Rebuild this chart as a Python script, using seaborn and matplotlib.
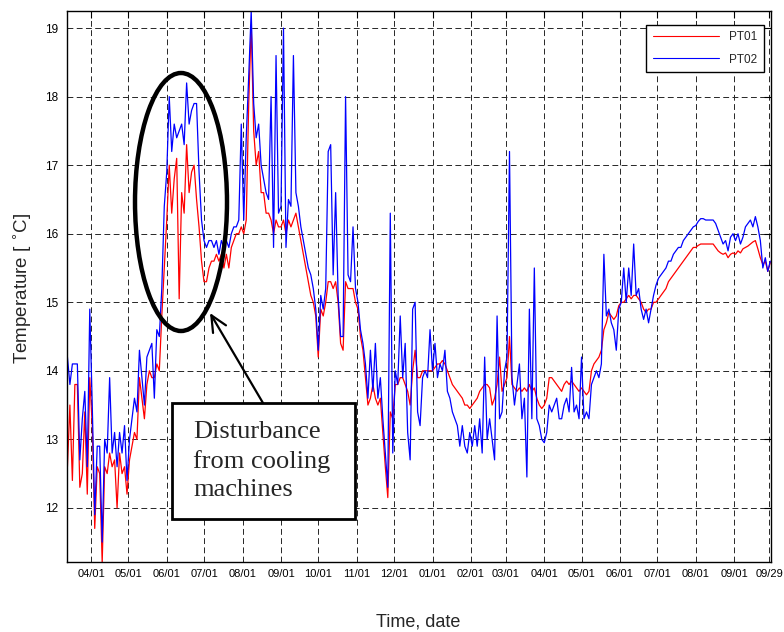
import numpy as np
import pandas as pd
import matplotlib
matplotlib.use("Agg")
import matplotlib.pyplot as plt
import matplotlib.dates as mdates
from matplotlib.lines import Line2D
from matplotlib.patches import Ellipse, Rectangle, FancyArrowPatch
import seaborn as sns

# readings every second day, first one on 2010-03-13
start_date = "2010-03-13"
step = "2D"
sensors = ["PT01", "PT02"]
colors = ["#ff0000", "#0000ff"]

pt01 = [
    12.6, 13.5, 12.4, 13.8, 13.8, 12.3, 12.5, 13.4, 12.2, 13.9,  # mar 10
    13.2, 11.7, 12.6, 12.5, 11.2, 12.6, 12.5, 12.8, 12.6, 12.7, 12.0, 12.8, 12.5, 12.6, 12.2,  # apr
    12.7, 12.9, 13.1, 13.0, 13.9, 13.6, 13.3, 13.8, 14.0, 13.9, 13.9, 14.1, 14.0, 14.8, 15.5,  # may
    16.2, 17.0, 16.3, 16.8, 17.1, 15.05, 16.6, 16.3, 17.3, 16.6, 16.9, 17.0, 16.5, 16.1, 15.6,  # jun
    15.3, 15.3, 15.5, 15.6, 15.6, 15.7, 15.6, 15.7, 15.5, 15.7, 15.5, 15.8, 15.9, 16.0, 16.0, 16.1,  # jul
    16.0, 16.2, 17.9, 19.05, 17.5, 17.0, 17.2, 16.6, 16.6, 16.3, 16.3, 16.2, 16.0, 16.2, 16.1,  # aug
    16.1, 16.2, 16.0, 16.2, 16.1, 16.2, 16.3, 16.1, 15.9, 15.7, 15.5, 15.3, 15.1, 15.0, 14.8,  # sep
    14.2, 14.9, 14.8, 15.0, 15.3, 15.3, 15.2, 15.3, 15.0, 14.4, 14.3, 15.3, 15.2, 15.2, 15.2, 15.0,  # oct
    14.9, 14.5, 14.3, 13.9, 13.5, 13.6, 13.8, 13.6, 13.5, 13.6, 13.1, 12.6, 12.15, 13.4, 13.3,  # nov
    13.8, 13.8, 13.9, 13.9, 13.8, 13.7, 13.5, 14.0, 14.3, 13.9, 13.9, 14.0, 14.0, 14.0, 14.0,  # dec
    14.0, 14.05, 14.1, 14.1, 14.15, 14.1, 14.0, 13.9, 13.8, 13.75, 13.7, 13.65, 13.6, 13.5, 13.5, 13.45,  # jan 11
    13.5, 13.55, 13.6, 13.7, 13.75, 13.8, 13.8, 13.75, 13.5, 13.6, 13.8, 14.2, 13.7, 13.8,  # feb
    13.9, 14.5, 13.8, 13.75, 13.7, 13.75, 13.7, 13.75, 13.7, 13.8, 13.7, 13.75, 13.6, 13.5, 13.45,  # mar
    13.5, 13.6, 13.9, 13.9, 13.85, 13.8, 13.75, 13.7, 13.8, 13.85, 13.8, 13.85, 13.8, 13.75, 13.7,  # apr
    13.75, 13.7, 13.65, 13.7, 14.0, 14.1, 14.15, 14.2, 14.3, 14.6, 14.7, 14.85, 14.8, 14.75, 14.8, 14.95,  # may
    15.0, 15.0, 15.05, 15.1, 15.05, 15.1, 15.1, 15.05, 15.0, 14.9, 14.85, 14.9, 14.9, 15.0, 15.0,  # jun
    15.05, 15.1, 15.15, 15.2, 15.3, 15.35, 15.4, 15.45, 15.5, 15.55, 15.6, 15.65, 15.7, 15.75, 15.8,  # jul
    15.8, 15.83, 15.85, 15.85, 15.85, 15.85, 15.85, 15.85, 15.8, 15.75, 15.72, 15.7, 15.72, 15.65, 15.7, 15.72,  # aug
    15.7, 15.75, 15.72, 15.78, 15.8, 15.82, 15.85, 15.88, 15.9, 15.78, 15.65, 15.55, 15.6, 15.45, 15.58,  # sep
]

pt02 = [
    14.2, 13.8, 14.1, 14.1, 14.1, 12.7, 13.3, 13.7, 12.6, 14.9,  # mar 10
    13.5, 11.9, 12.9, 12.9, 11.5, 13.0, 12.8, 13.9, 12.8, 13.1, 12.6, 13.1, 12.8, 13.2, 12.4,  # apr
    13.0, 13.3, 13.6, 13.4, 14.3, 13.9, 13.5, 14.2, 14.3, 14.4, 13.6, 14.6, 14.5, 15.2, 16.4,  # may
    16.9, 18.0, 17.2, 17.6, 17.4, 17.5, 17.6, 17.3, 18.2, 17.6, 17.8, 17.9, 17.9, 16.9, 16.2,  # jun
    15.9, 15.8, 15.9, 15.9, 15.8, 15.9, 15.7, 15.9, 15.8, 15.9, 15.8, 16.0, 16.1, 16.1, 16.2, 17.6,  # jul
    16.2, 17.4, 18.3, 19.25, 17.9, 17.4, 17.6, 17.0, 16.8, 16.6, 16.5, 18.0, 15.8, 18.6, 16.3,  # aug
    16.4, 19.0, 15.8, 16.5, 16.4, 18.6, 16.6, 16.4, 16.1, 15.9, 15.7, 15.5, 15.4, 15.2, 14.9,  # sep
    14.3, 15.1, 14.9, 15.2, 17.2, 17.3, 15.4, 16.6, 15.1, 14.5, 14.5, 18.0, 15.4, 15.3, 16.1, 15.2,  # oct
    15.0, 14.6, 14.4, 14.1, 13.6, 14.3, 13.7, 14.4, 13.6, 13.9, 13.3, 12.8, 12.3, 16.3, 12.8,  # nov
    14.0, 13.8, 14.8, 13.9, 14.4, 13.1, 12.7, 14.9, 15.0, 13.4, 13.2, 13.9, 14.0, 13.9, 14.6,  # dec
    14.0, 14.4, 13.9, 14.1, 14.0, 14.3, 13.7, 13.6, 13.4, 13.3, 13.2, 12.9, 13.2, 12.9, 12.8, 13.1,  # jan 11
    12.9, 13.2, 12.9, 13.3, 12.8, 14.2, 13.0, 13.3, 13.0, 12.7, 14.8, 13.3, 13.4, 14.0,  # feb
    14.2, 17.2, 13.9, 13.5, 13.8, 14.1, 13.3, 13.6, 12.45, 14.9, 13.3, 15.5, 13.3, 13.2, 13.0,  # mar
    12.95, 13.1, 13.5, 13.4, 13.5, 13.6, 13.3, 13.3, 13.5, 13.6, 13.4, 14.05, 13.4, 13.5, 13.3,  # apr
    14.2, 13.3, 13.4, 13.3, 13.8, 13.9, 14.0, 13.9, 14.1, 15.7, 14.8, 14.9, 14.7, 14.6, 14.3, 14.9,  # may
    15.0, 15.5, 15.0, 15.5, 15.1, 15.85, 15.1, 15.2, 14.9, 14.75, 14.9, 14.7, 14.9, 15.1, 15.25,  # jun
    15.35, 15.4, 15.45, 15.5, 15.6, 15.6, 15.7, 15.75, 15.8, 15.8, 15.9, 15.95, 16.0, 16.05, 16.1,  # jul
    16.12, 16.18, 16.22, 16.22, 16.2, 16.2, 16.2, 16.2, 16.15, 16.05, 15.95, 15.85, 15.9, 15.75, 15.95, 16.0,  # aug
    15.9, 16.0, 15.85, 15.95, 16.1, 16.15, 16.2, 16.1, 16.25, 16.1, 15.9, 15.5, 15.65, 15.45, 15.6,  # sep
]

tick_dates = list(pd.date_range("2010-04-01", "2011-09-01", freq="MS")) + [pd.Timestamp("2011-09-29")]
y_ticks = [12, 13, 14, 15, 16, 17, 18, 19]
note_text = "Disturbance\nfrom cooling\nmachines"

dates = pd.date_range(start_date, periods=len(pt01), freq=step)
df = pd.DataFrame({
    "date": np.concatenate([dates.values, dates.values]),
    "temp": pt01 + pt02,
    "sensor": np.repeat(sensors, len(dates)),
})

sns.set_style("white")
plt.rcParams["font.family"] = ["Liberation Sans", "DejaVu Sans"]

W, H = 784, 632
fig = plt.figure(figsize=(W / 100, H / 100), dpi=100)
ax = fig.add_axes([67 / W, 1 - 562 / H, 704 / W, 551 / H])

sns.lineplot(data=df, x="date", y="temp", hue="sensor", hue_order=sensors,
             palette=dict(zip(sensors, colors)), estimator=None, lw=0.9,
             legend=False, ax=ax)

ax.set_xlim(pd.Timestamp("2010-03-12 16:00"), pd.Timestamp("2011-09-30 14:00"))
ax.set_ylim(11.21, 19.25)
ax.set_xticks(tick_dates)
ax.xaxis.set_major_formatter(mdates.DateFormatter("%m/%d"))
ax.set_yticks(y_ticks)
ax.tick_params(direction="in", length=5, width=0.8, top=True, right=True, colors="black")
ax.tick_params(axis="x", labelsize=8, pad=5)
ax.tick_params(axis="y", labelsize=8.5, pad=6)

ax.set_axisbelow(True)
ax.grid(True, linestyle=(0, (6, 3.5)), color="0.15", lw=0.7)
for s in ax.spines.values():
    s.set_color("black")
    s.set_linewidth(1.0)

ax.set_xlabel("Time, date", fontsize=13)
ax.xaxis.set_label_coords(0.4986, -0.109)
ax.xaxis.label.set_va("center")
ax.set_ylabel("Temperature [ $^{\\circ}$C]", fontsize=13.5)
ax.yaxis.set_label_coords(-0.064, 0.497)
ax.yaxis.label.set_va("center")

handles = [Line2D([], [], color=c, lw=0.8) for c in colors]
leg = ax.legend(handles, sensors, loc="upper right",
                bbox_to_anchor=(764 / W, 1 - 25 / H), bbox_transform=fig.transFigure,
                fontsize=8.5, handlelength=5.6, handletextpad=0.9, labelspacing=0.85,
                borderpad=0.55, borderaxespad=0, fancybox=False, framealpha=1,
                edgecolor="black")
leg.get_frame().set_linewidth(1.0)

# annotation: ellipse, arrow and note box
fig.add_artist(Ellipse((181 / W, 1 - 202 / H), 92 / W, 258 / H, transform=fig.transFigure,
                       fill=False, ec="black", lw=3.2))
fig.add_artist(FancyArrowPatch((263 / W, 1 - 403 / H), (210 / W, 1 - 313 / H),
                               transform=fig.transFigure,
                               arrowstyle="->,head_length=0.58,head_width=0.27",
                               mutation_scale=20, lw=1.6, color="black",
                               shrinkA=0, shrinkB=0))
fig.add_artist(Rectangle((172 / W, 1 - 519 / H), 183 / W, 116 / H, transform=fig.transFigure,
                         fc="white", ec="black", lw=2))
fig.text(193 / W, 1 - 421 / H, note_text, ha="left", va="top", fontsize=19,
         family=["Liberation Serif", "DejaVu Serif"], linespacing=1.38)

fig.savefig("out.png", dpi=100)
